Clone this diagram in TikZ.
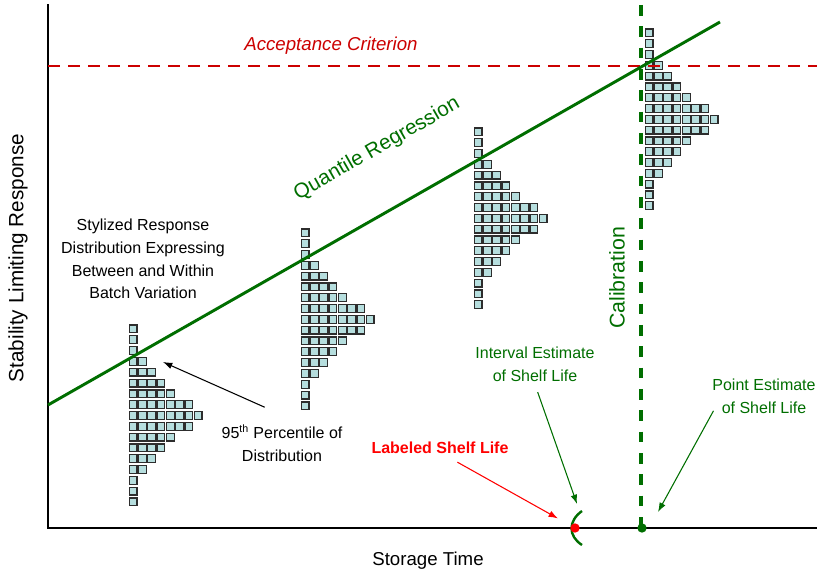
\documentclass[tikz,border=0pt]{standalone}
\usepackage{fontspec}
\setmainfont{Liberation Sans}
\usetikzlibrary{arrows.meta,positioning}

\definecolor{accred}{RGB}{204,0,0}
\definecolor{lslred}{RGB}{255,0,0}
\definecolor{regreen}{RGB}{0,110,0}
\definecolor{cellfill}{RGB}{182,222,222}
\definecolor{celldraw}{RGB}{45,45,45}

% one stylized distribution, left column centre at (#1,#2)
\newcommand{\distrib}[2]{%
  \foreach \n [count=\r] in {1,1,1,2,3,4,5,7,8,7,5,4,3,2,1,1,1}
    \foreach \c in {1,...,\n}
      \draw[cell] ({#1+(\c-1)*9.3-3.9},{#2+(\r-1)*10.8-3.9}) rectangle ++(7.8,7.8);
}

\begin{document}
\begin{tikzpicture}[x=0.75pt,y=-0.75pt,
  cell/.style={draw=celldraw,fill=cellfill,line width=0.9pt},
  lbl/.style={inner sep=0pt,align=center,font=\fontsize{12}{17}\selectfont},
  axis/.style={line width=2.2pt,line cap=rect},
  regline/.style={regreen,line width=2.2pt},
  arr/.style={-{Latex[length=7pt,width=5pt]},line width=0.8pt},
  dot/.style={circle,inner sep=0pt,minimum size=7pt}]

\useasboundingbox (0,0) rectangle (817,573);

% axes
\coordinate (ytop) at (48,5);
\coordinate (orig) at (48,528);
\coordinate (xend) at (817,528);
\draw[axis] (ytop) -- (orig) -- (xend);

% distributions
\distrib{133}{329}
\distrib{305}{233}
\distrib{478}{132}
\distrib{649}{33}

% acceptance criterion
\draw[accred,line width=2.2pt,dash pattern=on 9pt off 6pt] (48,66) -- (817,66);
\node[lbl,text=accred,font=\fontsize{14}{17}\itshape] (acc) at (331,46) {Acceptance Criterion};

% quantile regression
\draw[regline] (48,405) -- (720,22);
\node[lbl,text=regreen,font=\fontsize{15.5}{17}\selectfont,rotate=29.7] (qreg) at (377,149) {Quantile Regression};

% calibration
\draw[regline,line width=2.6pt,dash pattern=on 8pt off 8pt] (641,5) -- (641,528);
\node[lbl,text=regreen,font=\fontsize{16}{17}\selectfont,rotate=90] (calib) at (617,278) {Calibration};

% shelf life marks
\draw[regreen,line width=1.8pt] (582,511) .. controls (568,521) and (568,536) .. (582,545);
\node[dot,fill=lslred] (lsl) at (575,528) {};
\node[dot,fill=regreen] (pesl) at (642,528) {};

% texts
\node[lbl] (stylized) at (143,259) {Stylized Response\\Distribution Expressing\\Between and Within\\Batch Variation};
\node[lbl] (pct) at (282,443) {95\textsuperscript{th} Percentile of\\Distribution};
\node[lbl,text=lslred,font=\fontsize{12}{17}\bfseries] (labeled) at (440,448) {Labeled Shelf Life};
\node[lbl,text=regreen] (interval) at (535,364) {Interval Estimate\\of Shelf Life};
\node[lbl,text=regreen] (point) at (764,396) {Point Estimate\\of Shelf Life};
\node[lbl,font=\fontsize{14}{17}\selectfont] (xlab) at (428,561) {Storage Time};
\node[lbl,font=\fontsize{15.5}{17}\selectfont,rotate=90] (ylab) at (18,258) {Stability Limiting Response};

% arrows
\coordinate (p95) at (163,362);
\coordinate (ivtip) at (577,504);
\coordinate (petip) at (658,512);
\draw[arr] ([xshift=-13pt,yshift=13pt]pct.north) -- (p95);
\draw[arr,lslred,shorten >=11pt] ([xshift=13pt,yshift=-6pt]labeled.south) -- (lsl);
\draw[arr,regreen] ([xshift=2pt,yshift=-8pt]interval.south) -- (ivtip);
\draw[arr,regreen] ([xshift=1pt,yshift=2pt]point.south west) -- (petip);

\end{tikzpicture}
\end{document}
